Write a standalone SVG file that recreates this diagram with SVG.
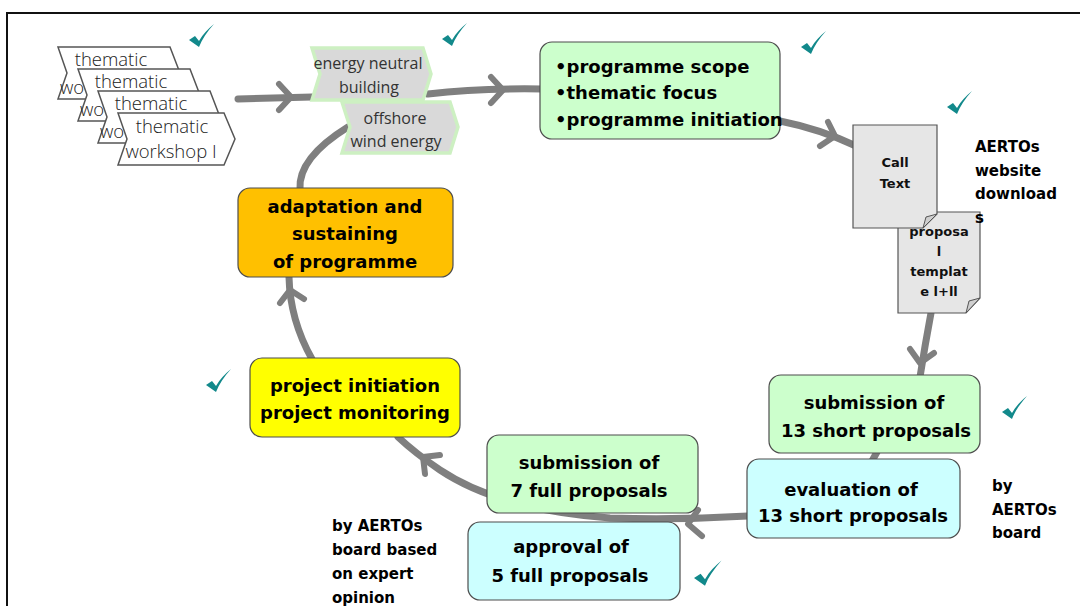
<svg xmlns="http://www.w3.org/2000/svg" width="1080" height="606" viewBox="0 0 1080 606">
<defs>
<style>
.conn{fill:none;stroke:#7f7f7f;stroke-width:7;stroke-linecap:round;stroke-linejoin:round}
.head{fill:none;stroke:#7f7f7f;stroke-width:6;stroke-linecap:round;stroke-linejoin:round}
.box{stroke:#4d4d4d;stroke-width:1.2}
.green{fill:#ccffcc}
.cyan{fill:#ccffff}
.bt{font-family:"DejaVu Sans",sans-serif;font-weight:bold;font-size:18px;fill:#000;text-anchor:middle}
.bl{font-family:"DejaVu Sans",sans-serif;font-weight:bold;font-size:18px;fill:#000}
.lbl{font-family:"DejaVu Sans",sans-serif;font-weight:bold;font-size:15px;fill:#000}
.doc{fill:#e6e6e6;stroke:#555;stroke-width:1.2}
.fold{fill:#cfcfcf;stroke:#555;stroke-width:1}
.dt{font-family:"DejaVu Sans",sans-serif;font-weight:bold;font-size:13px;fill:#111;text-anchor:middle}
.ws{fill:#fff;stroke:#555;stroke-width:1.5}
.wt{font-family:"Open Sans",sans-serif;font-weight:300;font-size:18.5px;fill:#222}
.en{fill:#d9d9d9;stroke:#cdf0c2;stroke-width:3.5}
.et{font-family:"Open Sans",sans-serif;font-size:16px;fill:#333;text-anchor:middle}
.chk{fill:#12898b}
</style>
<path id="tick" d="M0,11 L6,7 L10,12 C14,5 19,0 25,-5 C18,3 13,10 10,18 Z"/>
</defs>

<rect x="7" y="13" width="1100" height="620" fill="none" stroke="#111" stroke-width="2"/>

<g id="connectors">
<path class="conn" d="M238,99 L312,97"/>
<path class="head" d="M279,84 L291,97 L279,110"/>
<path class="conn" d="M428,94 Q480,88 542,89"/>
<path class="head" d="M491,77 L503,90 L491,103"/>
<path class="conn" d="M780,121 Q820,129 856,146"/>
<path class="head" d="M828,122 L835,136 L820,146"/>
<path class="conn" d="M931,313 Q925,345 920,377"/>
<path class="head" d="M910,349 L920,363 L934,353"/>
<path class="conn" d="M877,452 L872,461"/>
<path class="conn" d="M748,516 Q680,520 610,518 Q500,510 440,470 Q415,453 398,437"/>
<path class="head" d="M698,510 L688,524 L702,536"/>
<path class="head" d="M425,474 L423,457 L440,455"/>
<path class="conn" d="M312,359 Q290,320 289,277"/>
<path class="head" d="M280,303 L290,290 L304,299"/>
<path class="conn" d="M300,189 Q298,158 348,127"/>
</g>

<g id="workshop1">
<polygon class="ws" points="58,47 170,47 180,73 170,99 58,99 67,73"/>
<text class="wt" x="111" y="66" text-anchor="middle">thematic</text>
<text class="wt" x="60" y="94">wo</text>
</g>
<g id="workshop2">
<polygon class="ws" points="78,69 190,69 200,95 190,121 78,121 87,95"/>
<text class="wt" x="131" y="88" text-anchor="middle">thematic</text>
<text class="wt" x="80" y="116">wo</text>
</g>
<g id="workshop3">
<polygon class="ws" points="98,91 210,91 220,117 210,143 98,143 107,117"/>
<text class="wt" x="151" y="110" text-anchor="middle">thematic</text>
<text class="wt" x="100" y="138">wo</text>
</g>
<g id="workshop4">
<polygon class="ws" points="118,113 224,113 235,139 224,165 118,165 127,139"/>
<text class="wt" x="172" y="133" text-anchor="middle">thematic</text>
<text class="wt" x="171" y="158" text-anchor="middle">workshop I</text>
</g>

<g id="energy-neutral">
<polygon class="en" points="312,48 423,48 431,74 423,100 312,100 320,74"/>
<text class="et" x="368" y="69">energy neutral</text>
<text class="et" x="369" y="93">building</text>
</g>
<g id="offshore">
<polygon class="en" points="342,102 450,102 458,127 450,153 342,153 350,127"/>
<text class="et" x="395" y="124">offshore</text>
<text class="et" x="396" y="147">wind energy</text>
</g>

<g id="programme">
<rect class="box green" x="540" y="42" width="240" height="97" rx="12"/>
<text class="bl" x="555" y="73">•programme scope</text>
<text class="bl" x="555" y="99">•thematic focus</text>
<text class="bl" x="555" y="126">•programme initiation</text>
</g>

<g id="proposal-template">
<path class="doc" d="M898,212 H980 V298 L966,313 H898 Z"/>
<path class="fold" d="M980,298 L969,301 L966,313 Z"/>
<text class="dt" x="939" y="236">proposa</text>
<text class="dt" x="939" y="256">l</text>
<text class="dt" x="939" y="276">templat</text>
<text class="dt" x="939" y="296">e l+ll</text>
</g>
<g id="call-text">
<path class="doc" d="M853,125 H937 V214 L923,228 H853 Z"/>
<path class="fold" d="M937,214 L926,217 L923,228 Z"/>
<text class="dt" x="895" y="167">Call</text>
<text class="dt" x="895" y="188">Text</text>
</g>

<g id="aertos-website">
<text class="lbl" x="975" y="152">AERTOs</text>
<text class="lbl" x="975" y="176">website</text>
<text class="lbl" x="975" y="199">download</text>
<text class="lbl" x="975" y="223">s</text>
</g>

<g id="submission-short">
<rect class="box green" x="769" y="375" width="211" height="78" rx="12"/>
<text class="bt" x="874" y="409">submission of</text>
<text class="bt" x="876" y="437">13 short proposals</text>
</g>
<g id="evaluation">
<rect class="box cyan" x="747" y="459" width="213" height="79" rx="12"/>
<text class="bt" x="851" y="496">evaluation of</text>
<text class="bt" x="853" y="522">13 short proposals</text>
</g>
<g id="by-board">
<text class="lbl" x="992" y="491">by</text>
<text class="lbl" x="992" y="515">AERTOs</text>
<text class="lbl" x="992" y="538">board</text>
</g>

<g id="submission-full">
<rect class="box green" x="487" y="435" width="211" height="78" rx="12"/>
<text class="bt" x="589" y="469">submission of</text>
<text class="bt" x="589" y="497">7 full proposals</text>
</g>
<g id="approval">
<rect class="box cyan" x="468" y="522" width="212" height="78" rx="12"/>
<text class="bt" x="571" y="553">approval of</text>
<text class="bt" x="570" y="582">5 full proposals</text>
</g>
<g id="by-board-expert">
<text class="lbl" x="332" y="531">by AERTOs</text>
<text class="lbl" x="332" y="555">board based</text>
<text class="lbl" x="332" y="579">on expert</text>
<text class="lbl" x="332" y="603">opinion</text>
</g>

<g id="project">
<rect class="box" x="250" y="358" width="210" height="79" rx="12" fill="#ffff00"/>
<text class="bt" x="355" y="392">project initiation</text>
<text class="bt" x="355" y="419">project monitoring</text>
</g>
<g id="adaptation">
<rect class="box" x="238" y="188" width="215" height="89" rx="12" fill="#ffc000"/>
<text class="bt" x="345" y="213">adaptation and</text>
<text class="bt" x="345" y="240">sustaining</text>
<text class="bt" x="345" y="268">of programme</text>
</g>

<g id="checks">
<use href="#tick" class="chk" transform="translate(189,29)"/>
<use href="#tick" class="chk" transform="translate(442,28)"/>
<use href="#tick" class="chk" transform="translate(801,36)"/>
<use href="#tick" class="chk" transform="translate(947,96)"/>
<use href="#tick" class="chk" transform="translate(1002,401)"/>
<use href="#tick" class="chk" transform="translate(206,374)"/>
<use href="#tick" class="chk" transform="translate(694,566) scale(1.1)"/>
</g>
</svg>
